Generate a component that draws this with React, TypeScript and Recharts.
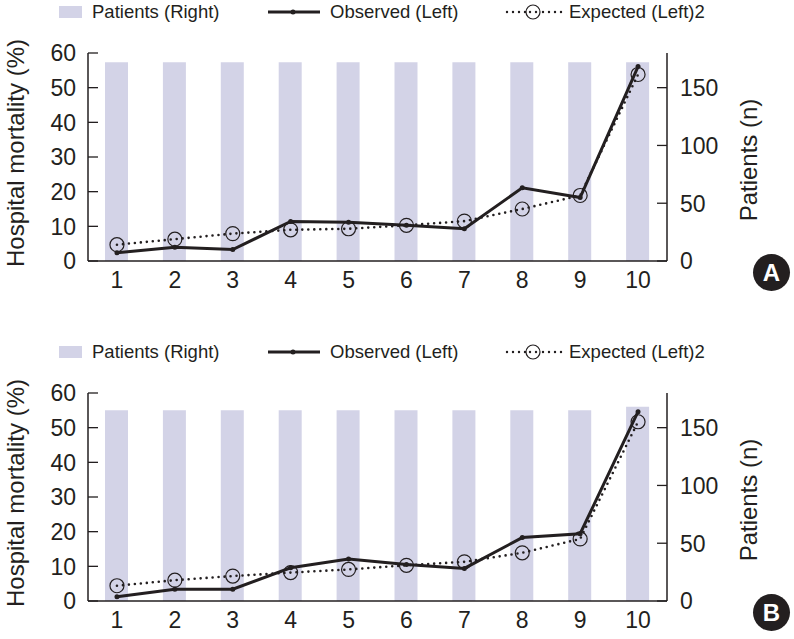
import { Bar, ComposedChart, Line, XAxis, YAxis } from "recharts";

const deciles = ["1", "2", "3", "4", "5", "6", "7", "8", "9", "10"];
const leftTicks = [0, 10, 20, 30, 40, 50, 60];
const rightTicks = [0, 50, 100, 150];

const patientsA = [172, 172, 172, 172, 172, 172, 172, 172, 172, 172];
const observedA = [2.4, 4.0, 3.3, 11.4, 11.2, 10.3, 9.3, 21.1, 18.3, 56.1];
const expectedA = [4.7, 6.3, 7.9, 9.0, 9.3, 10.3, 11.5, 15.0, 18.9, 53.8];

const patientsB = [165, 165, 165, 165, 165, 165, 165, 165, 165, 168];
const observedB = [1.2, 3.4, 3.4, 9.6, 12.1, 10.5, 9.4, 18.3, 19.4, 54.6];
const expectedB = [4.4, 6.0, 7.2, 8.2, 9.1, 10.3, 11.3, 13.9, 17.9, 51.7];

const ink = "#231f20";
const barFill = "#d3d3e7";
const font = "'Liberation Sans', Arial, Helvetica, sans-serif";

function LeftTick({ x, y, payload }: any) {
  const ax = x + 12;
  return (
    <g>
      <line x1={ax} x2={ax + 10} y1={y} y2={y} stroke={ink} strokeWidth={1.3} />
      <text x={x} y={y} dy="0.36em" textAnchor="end" fontSize={23} fill={ink} fontFamily={font}>{payload.value}</text>
    </g>
  );
}

function RightTick({ x, y, payload }: any) {
  const ax = x - 13;
  return (
    <g>
      <line x1={ax - 10} x2={ax} y1={y} y2={y} stroke={ink} strokeWidth={1.3} />
      <text x={x} y={y} dy="0.36em" textAnchor="start" fontSize={23} fill={ink} fontFamily={font}>{payload.value}</text>
    </g>
  );
}

function ExpectedDot({ cx, cy }: any) {
  if (cx == null || cy == null) return null;
  return <circle cx={cx} cy={cy} r={7} fill="none" stroke={ink} strokeWidth={1.2} />;
}

function Legend() {
  const text = { position: "absolute" as const, top: 0, fontSize: 18.5, lineHeight: "24px", color: ink, fontFamily: font };
  return (
    <>
      <div style={{ position: "absolute", left: 59, top: 6, width: 23, height: 12, background: barFill }} />
      <div style={{ ...text, left: 92 }}>Patients (Right)</div>
      <svg style={{ position: "absolute", left: 266, top: 4 }} width={56} height={16}>
        <line x1={2} x2={54} y1={8} y2={8} stroke={ink} strokeWidth={3} />
        <circle cx={27} cy={8} r={2.5} fill={ink} />
      </svg>
      <div style={{ ...text, left: 330 }}>Observed (Left)</div>
      <svg style={{ position: "absolute", left: 504, top: 2 }} width={60} height={20}>
        <line x1={3} x2={58} y1={10} y2={10} stroke={ink} strokeWidth={2.4} strokeDasharray="0 6" strokeLinecap="round" />
        <circle cx={29} cy={10} r={7} fill="white" stroke={ink} strokeWidth={1.2} />
        <circle cx={26} cy={10} r={1.2} fill={ink} />
        <circle cx={32} cy={10} r={1.2} fill={ink} />
      </svg>
      <div style={{ ...text, left: 569 }}>Expected (Left)2</div>
    </>
  );
}

function Panel({ top, letter, patients, observed, expected }: { top: number; letter: string; patients: number[]; observed: number[]; expected: number[] }) {
  const data = deciles.map((decile, i) => ({ decile, patients: patients[i], observed: observed[i], expected: expected[i] }));
  return (
    <div style={{ position: "absolute", left: 0, top, width: 794, height: 300 }}>
      <Legend />
      <ComposedChart width={794} height={300} data={data} margin={{ top: 53, right: 0, bottom: 0, left: 0 }}>
        <XAxis
          dataKey="decile"
          height={39}
          tickLine={false}
          tickSize={0}
          tickMargin={11}
          axisLine={{ stroke: ink, strokeWidth: 1.5 }}
          tick={{ fontSize: 23, fill: ink, fontFamily: font }}
          interval={0}
        />
        <YAxis
          yAxisId="left"
          width={88}
          domain={[0, 60]}
          ticks={leftTicks}
          tickSize={0}
          tickMargin={12}
          tickLine={false}
          axisLine={{ stroke: ink, strokeWidth: 1.5 }}
          tick={<LeftTick />}
          label={{
            content: ({ viewBox }: any) => {
              const cx = viewBox.x + 15;
              const cy = viewBox.y + viewBox.height / 2 - 4;
              return (
                <text x={cx} y={cy} transform={`rotate(-90 ${cx} ${cy})`} textAnchor="middle" dy="0.36em" fontSize={24} fill={ink} fontFamily={font}>
                  Hospital mortality (%)
                </text>
              );
            },
          }}
        />
        <YAxis
          yAxisId="right"
          orientation="right"
          width={127}
          domain={[0, 180]}
          ticks={rightTicks}
          tickSize={0}
          tickMargin={13}
          tickLine={false}
          axisLine={{ stroke: ink, strokeWidth: 1.5 }}
          tick={<RightTick />}
          label={{
            content: ({ viewBox }: any) => {
              const cx = viewBox.x + 81;
              const cy = viewBox.y + viewBox.height / 2 + 3;
              return (
                <text x={cx} y={cy} transform={`rotate(-90 ${cx} ${cy})`} textAnchor="middle" dy="0.36em" fontSize={24} fill={ink} fontFamily={font}>
                  Patients (n)
                </text>
              );
            },
          }}
        />
        <Bar yAxisId="right" dataKey="patients" barSize={23} fill={barFill} isAnimationActive={false} />
        <Line
          yAxisId="left"
          type="linear"
          dataKey="expected"
          stroke={ink}
          strokeWidth={2.6}
          strokeDasharray="0 6"
          strokeLinecap="round"
          dot={<ExpectedDot />}
          activeDot={false}
          isAnimationActive={false}
        />
        <Line
          yAxisId="left"
          type="linear"
          dataKey="observed"
          stroke={ink}
          strokeWidth={3}
          dot={{ r: 2.5, fill: ink, stroke: ink, strokeWidth: 0 }}
          activeDot={false}
          isAnimationActive={false}
        />
      </ComposedChart>
      <div
        style={{
          position: "absolute",
          left: 753,
          top: 254,
          width: 37,
          height: 37,
          borderRadius: "50%",
          background: ink,
          color: "white",
          fontFamily: font,
          fontWeight: 700,
          fontSize: 24,
          lineHeight: "37px",
          textAlign: "center",
        }}
      >
        {letter}
      </div>
    </div>
  );
}

export default function App() {
  return (
    <div style={{ position: "absolute", left: 0, top: 0, width: 794, height: 639, overflow: "hidden", background: "white" }}>
      <Panel top={0} letter="A" patients={patientsA} observed={observedA} expected={expectedA} />
      <Panel top={340} letter="B" patients={patientsB} observed={observedB} expected={expectedB} />
    </div>
  );
}
